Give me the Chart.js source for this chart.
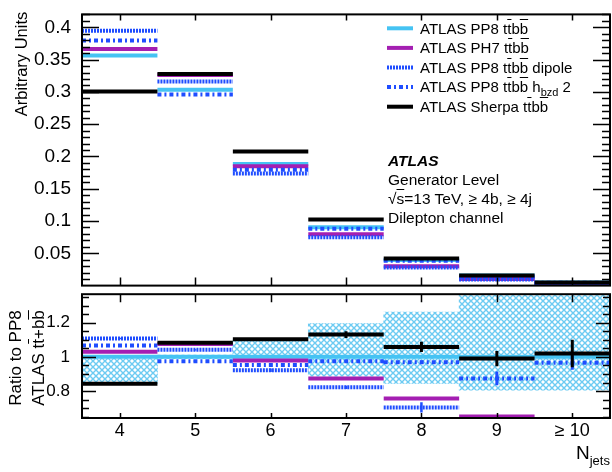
<!DOCTYPE html>
<html>
<head>
<meta charset="utf-8">
<script src="https://cdn.jsdelivr.net/npm/chart.js@4.4.1/dist/chart.umd.min.js"></script>
<style>
  body { margin: 0; background: #fff; }
  #wrap { position: relative; width: 612px; height: 472px; overflow: hidden; font-family: "Liberation Sans", Arial, sans-serif; color: #000; }
  canvas { position: absolute; left: 0; }
  #top { top: 0; }
  #bottom { top: 280px; }
  .lbl { position: absolute; white-space: nowrap; }
  .rot { transform: translate(-50%, -50%) rotate(-90deg); }
  .ov { text-decoration: overline; }
  .sub { font-size: 11px; position: relative; top: 4px; line-height: 0; vertical-align: baseline; }
  #legend { left: 420px; top: 18.7px; font-size: 15px; line-height: 19.6px; }
  #legend div { height: 19.6px; }
  #atlas { left: 388px; top: 151px; font-size: 15.5px; line-height: 19px; }
</style>
</head>
<body>
<div id="wrap">
  <canvas id="top" width="612" height="300"></canvas>
  <canvas id="bottom" width="612" height="192"></canvas>

  <svg class="lbl" style="left:0;top:0" width="612" height="130" id="legendLines"></svg>
  <div id="legend" class="lbl">
    <div>ATLAS PP8 t<span class="ov">t</span>b<span class="ov">b</span></div>
    <div>ATLAS PH7 t<span class="ov">t</span>b<span class="ov">b</span></div>
    <div>ATLAS PP8 t<span class="ov">t</span>b<span class="ov">b</span> dipole</div>
    <div>ATLAS PP8 t<span class="ov">t</span>b<span class="ov">b</span> h<span class="sub">bzd</span> 2</div>
    <div>ATLAS Sherpa t<span class="ov">t</span>b<span class="ov">b</span></div>
  </div>

  <div id="atlas" class="lbl">
    <div style="font-weight:bold;font-style:italic">ATLAS</div>
    <div>Generator Level</div>
    <div>&radic;<span class="ov">s</span>=13 TeV, &ge; 4b, &ge; 4j</div>
    <div>Dilepton channel</div>
  </div>

  <div class="lbl rot" style="left:20.5px;top:64px;font-size:16.5px">Arbitrary Units</div>
  <div class="lbl rot" style="left:16px;top:358px;font-size:17px">Ratio to PP8</div>
  <div class="lbl rot" style="left:39px;top:358px;font-size:17px">ATLAS t<span class="ov">t</span>+b<span class="ov">b</span></div>
  <div class="lbl" style="left:576px;top:443px;font-size:19px;line-height:19px">N<span style="font-size:13px;position:relative;top:6px">jets</span></div>
</div>

<script>
// bins and tick labels
const nJets = [4, 5, 6, 7, 8, 9, 10];
const xTickLabels = ['4', '5', '6', '7', '8', '9', '\u2265 10'];
const yTicksTop = [0.05, 0.1, 0.15, 0.2, 0.25, 0.3, 0.35, 0.4];
const yTickLabelsTop = ['0.05', '0.1', '0.15', '0.2', '0.25', '0.3', '0.35', '0.4'];
const yTicksRatio = [0.8, 1, 1.2];
const yTickLabelsRatio = ['0.8', '1', '1.2'];

// normalised distributions (upper panel)
const pp8 = [0.3565, 0.3035, 0.1885, 0.0905, 0.0395, 0.0155, 0.0048];
const ph7 = [0.3665, 0.3260, 0.1848, 0.0795, 0.0300, 0.0103, 0.0030];
const pp8Dipole = [0.3945, 0.3160, 0.1735, 0.0750, 0.0282, 0.0094, 0.0029];
const pp8Hbzd = [0.3795, 0.2960, 0.1795, 0.0880, 0.0383, 0.0137, 0.0046];
const sherpa = [0.3005, 0.3278, 0.2075, 0.1025, 0.0418, 0.0155, 0.0049];

// ratios to PP8 (lower panel)
const ratioPP8 = [1, 1, 1, 1, 1, 1, 1];
const ratioPH7 = [1.03, 1.075, 0.979, 0.874, 0.757, 0.652, 0.60];
const ratioDipole = [1.107, 1.041, 0.922, 0.822, 0.705, 0.60, 0.60];
const ratioHbzd = [1.066, 0.975, 0.952, 0.975, 0.969, 0.874, 0.965];
const ratioSherpa = [0.843, 1.083, 1.103, 1.13, 1.058, 0.99, 1.02];
const bandLow = [0.845, 0.99, 1.0, 0.887, 0.845, 0.806, 0.806];
const bandHigh = [1.0, 1.01, 1.10, 1.195, 1.262, 1.40, 1.40];
const errSherpa = [0.004, 0.004, 0.006, 0.02, 0.03, 0.045, 0.08];
const errHbzd = [0.004, 0.004, 0.01, 0.006, 0.01, 0.04, 0.04];
const errDipole = [0.004, 0.004, 0.01, 0.01, 0.03, 0, 0];

const CYAN = '#45c3f3';
const PURPLE = '#a41fb2';
const BLUE = '#1f4dff';
const DOT = [2, 1];
const DASHDOT = [4, 3, 2, 3];

Chart.defaults.font.family = "'Liberation Sans', Arial, sans-serif";
Chart.defaults.color = '#000';

function steps(vals) {
	const pts = [];
	vals.forEach((v, i) => {
		pts.push({ x: nJets[i] - 0.5, y: v }, { x: nJets[i] + 0.5, y: v }, { x: nJets[i] + 0.5, y: null });
	});
	return pts;
}

function lineSet(label, vals, color, dash) {
	return {
		type: 'line', label, data: steps(vals),
		borderColor: color, borderWidth: 4, borderDash: dash || [],
		borderCapStyle: 'butt', pointRadius: 0, spanGaps: false, fill: false, tension: 0,
	};
}

// frame + inward ticks on all four sides
const frameTicks = {
	id: 'frameTicks',
	afterDraw(chart, args, o) {
		const { ctx, chartArea: a, scales: { x, y } } = chart;
		ctx.save();
		ctx.strokeStyle = '#000';
		ctx.lineWidth = 1.5;
		ctx.beginPath();
		const k0 = Math.ceil(y.min / o.yStep - 1e-9), k1 = Math.floor(y.max / o.yStep + 1e-9);
		for (let k = Math.max(k0, 1); k <= k1; k++) {
			const v = k * o.yStep;
			const r = v / o.yMajor;
			const len = Math.abs(r - Math.round(r)) < 1e-6 ? o.yMajLen : o.yMinLen;
			const py = Math.round(y.getPixelForValue(v)) + 0.5;
			ctx.moveTo(a.left, py); ctx.lineTo(a.left + len, py);
			ctx.moveTo(a.right, py); ctx.lineTo(a.right - len, py);
		}
		nJets.forEach(n => {
			const px = Math.round(x.getPixelForValue(n)) + 0.5;
			ctx.moveTo(px, a.top); ctx.lineTo(px, a.top + o.xTopLen);
			ctx.moveTo(px, a.bottom); ctx.lineTo(px, a.bottom - o.xBotLen);
		});
		ctx.stroke();
		ctx.lineWidth = 2;
		ctx.strokeRect(a.left, a.top, a.right - a.left, a.bottom - a.top);
		ctx.restore();
	},
};

const errorBars = {
	id: 'errorBars',
	afterDatasetsDraw(chart, args, o) {
		const { ctx, chartArea: a, scales: { x, y } } = chart;
		if (!o.sets) return;
		ctx.save();
		ctx.beginPath();
		ctx.rect(a.left, a.top, a.right - a.left, a.bottom - a.top);
		ctx.clip();
		o.sets.forEach(s => {
			ctx.strokeStyle = s.color;
			ctx.lineWidth = s.width;
			s.vals.forEach((v, i) => {
				const e = s.err[i];
				if (!e) return;
				const px = x.getPixelForValue(nJets[i]);
				ctx.beginPath();
				ctx.moveTo(px, y.getPixelForValue(v - e));
				ctx.lineTo(px, y.getPixelForValue(v + e));
				ctx.stroke();
			});
		});
		ctx.restore();
	},
};

// upper panel
new Chart(document.getElementById('top'), {
	type: 'line',
	data: {
		datasets: [
			lineSet('ATLAS Sherpa ttbb', sherpa, '#000'),
			lineSet('ATLAS PP8 ttbb hbzd 2', pp8Hbzd, BLUE, DASHDOT),
			lineSet('ATLAS PP8 ttbb dipole', pp8Dipole, BLUE, DOT),
			lineSet('ATLAS PH7 ttbb', ph7, PURPLE),
			lineSet('ATLAS PP8 ttbb', pp8, CYAN),
		],
	},
	options: {
		responsive: false,
		animation: false,
		layout: { padding: { top: 9, right: 2, bottom: 6, left: 0 } },
		scales: {
			x: { type: 'linear', min: 3.5, max: 10.5, display: false, offset: false },
			y: {
				min: 0, max: 0.42,
				afterBuildTicks: s => { s.ticks = yTicksTop.map(v => ({ value: v })); },
				afterFit: s => { s.width = 82; },
				grid: { display: false }, border: { display: false },
				ticks: { autoSkip: false, padding: 3, font: { size: 19 }, callback: (v, i) => yTickLabelsTop[i] },
			},
		},
		plugins: {
			legend: { display: false }, tooltip: { enabled: false },
			frameTicks: { yStep: 0.01, yMajor: 0.05, yMajLen: 17, yMinLen: 8, xTopLen: 6, xBotLen: 8 },
		},
	},
	plugins: [frameTicks],
});

// lower (ratio) panel
const bctx = document.getElementById('bottom').getContext('2d');
const tile = document.createElement('canvas');
tile.width = 6; tile.height = 6;
const tg = tile.getContext('2d');
tg.strokeStyle = '#6ccbf2';
tg.lineWidth = 1.4;
tg.beginPath();
tg.moveTo(0, 0); tg.lineTo(6, 6);
tg.moveTo(6, 0); tg.lineTo(0, 6);
tg.stroke();
const hatch = bctx.createPattern(tile, 'repeat');

new Chart(bctx, {
	type: 'line',
	data: {
		datasets: [
			lineSet('Sherpa', ratioSherpa, '#000'),
			lineSet('hbzd', ratioHbzd, BLUE, DASHDOT),
			lineSet('dipole', ratioDipole, BLUE, DOT),
			lineSet('PH7', ratioPH7, PURPLE),
			lineSet('PP8', ratioPP8, CYAN),
			{
				type: 'bar', label: 'band',
				data: nJets.map((n, i) => ({ x: n, y: [bandLow[i], bandHigh[i]] })),
				backgroundColor: hatch, borderWidth: 0,
				barPercentage: 1, categoryPercentage: 1,
			},
		],
	},
	options: {
		responsive: false,
		animation: false,
		layout: { padding: { top: 14, right: 2, bottom: 0, left: 0 } },
		scales: {
			x: {
				type: 'linear', min: 3.5, max: 10.5, offset: false,
				afterBuildTicks: s => { s.ticks = nJets.map(v => ({ value: v })); },
				afterFit: s => { s.height = 54; },
				grid: { display: false, offset: false }, border: { display: false },
				ticks: { autoSkip: false, maxRotation: 0, padding: -6, font: { size: 18 }, callback: (v, i) => xTickLabels[i] },
			},
			y: {
				min: 0.643, max: 1.366,
				afterBuildTicks: s => { s.ticks = yTicksRatio.map(v => ({ value: v })); },
				afterFit: s => { s.width = 82; },
				grid: { display: false }, border: { display: false },
				ticks: { autoSkip: false, padding: 4, font: { size: 17 }, callback: (v, i) => yTickLabelsRatio[i] },
			},
		},
		plugins: {
			legend: { display: false }, tooltip: { enabled: false },
			frameTicks: { yStep: 0.05, yMajor: 0.2, yMajLen: 14, yMinLen: 7, xTopLen: 8, xBotLen: 5 },
			errorBars: {
				sets: [
					{ vals: ratioDipole, err: errDipole, color: BLUE, width: 2.5 },
					{ vals: ratioHbzd, err: errHbzd, color: BLUE, width: 3 },
					{ vals: ratioSherpa, err: errSherpa, color: '#000', width: 3 },
				],
			},
		},
	},
	plugins: [errorBars, frameTicks],
});

// legend line samples
const legendStyles = [
	{ color: CYAN, dash: [] },
	{ color: PURPLE, dash: [] },
	{ color: BLUE, dash: DOT },
	{ color: BLUE, dash: DASHDOT },
	{ color: '#000', dash: [] },
];
const svg = document.getElementById('legendLines');
legendStyles.forEach((s, i) => {
	const yy = 28.3 + i * 19.6;
	const ln = document.createElementNS('http://www.w3.org/2000/svg', 'line');
	ln.setAttribute('x1', 387); ln.setAttribute('x2', 413);
	ln.setAttribute('y1', yy); ln.setAttribute('y2', yy);
	ln.setAttribute('stroke', s.color);
	ln.setAttribute('stroke-width', 4);
	if (s.dash.length) ln.setAttribute('stroke-dasharray', s.dash.join(' '));
	svg.appendChild(ln);
});
</script>
</body>
</html>
